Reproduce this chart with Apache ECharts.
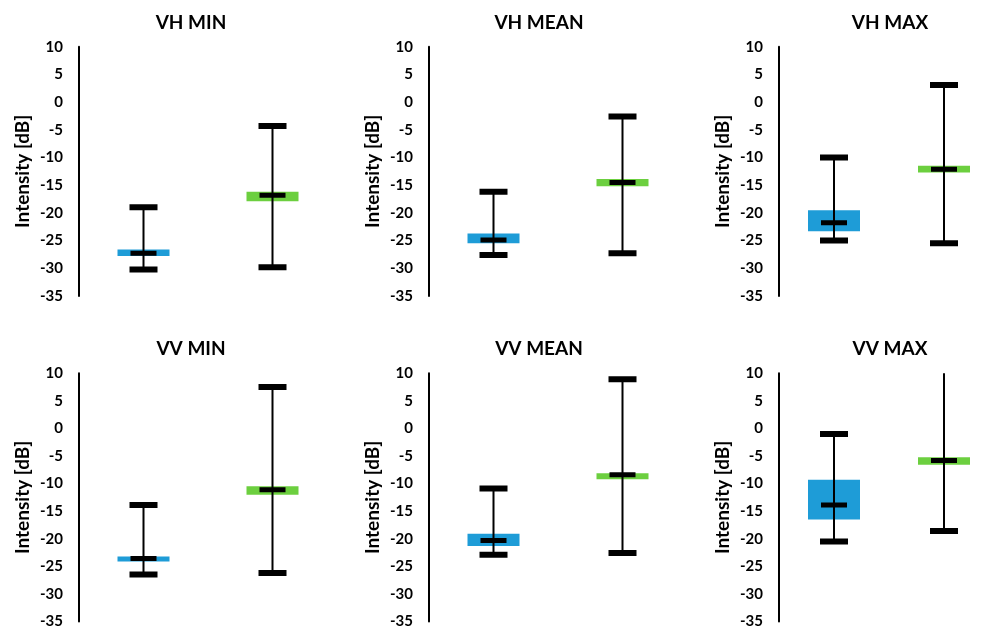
<!DOCTYPE html>
<html>
<head>
<meta charset="utf-8">
<script src="https://cdn.jsdelivr.net/npm/echarts@6/dist/echarts.min.js"></script>
<style>html,body{margin:0;padding:0;background:#fff}#c{width:999px;height:629px}</style>
</head>
<body>
<div id="c"></div>
<script>
// ---- data ----
const panelTitles = ['VH MIN', 'VH MEAN', 'VH MAX', 'VV MIN', 'VV MEAN', 'VV MAX'];
const categories = ['A', 'B'];
const yTicks = [-35, -30, -25, -20, -15, -10, -5, 0, 5, 10];

// blue group (category A)
const blueMin    = [-30.2, -27.6, -25.0, -26.5, -22.9, -20.5];
const blueLow    = [-27.8, -25.5, -23.3, -24.1, -21.3, -16.5];
const blueMedian = [-27.3, -24.9, -21.8, -23.6, -20.3, -13.9];
const blueHigh   = [-26.6, -23.7, -19.5, -23.2, -19.1, -9.3];
const blueMax    = [-19.0, -16.2, -10.0, -13.9, -10.9, -1.0];

// green group (category B)
const greenMin    = [-29.8, -27.3, -25.5, -26.2, -22.6, -18.6];
const greenLow    = [-17.9, -15.2, -12.7, -12.0, -9.2, -6.6];
const greenMedian = [-16.8, -14.5, -12.1, -11.1, -8.4, -5.8];
const greenHigh   = [-16.2, -13.9, -11.5, -10.5, -8.1, -5.2];
const greenMax    = [-4.3, -2.6, 3.1, 7.5, 8.9, 12.0];

// ---- layout / style ----
const BLUE = '#1E9CD7';
const GREEN = '#6CCF3F';
const FONT = 'Lato';
const gridLefts = [79, 429, 779];
const gridTops = [46.7, 373.3];
const gridW = 258, gridH = 249.3;
const titleX = [186, 534, 885];
const titleY = [8, 334];

const chart = echarts.init(document.getElementById('c'), null, {renderer: 'canvas'});

const grids = [], xAxes = [], yAxes = [], series = [], titles = [];
panelTitles.forEach((t, i) => {
  const col = i % 3, row = Math.floor(i / 3);
  grids.push({left: gridLefts[col], top: gridTops[row], width: gridW, height: gridH, containLabel: false});
  xAxes.push({
    type: 'category', gridIndex: i, data: categories, boundaryGap: true,
    show: false
  });
  yAxes.push({
    type: 'value', gridIndex: i, min: yTicks[0], max: yTicks[yTicks.length - 1], interval: 5,
    axisLine: {show: true, onZero: false, lineStyle: {color: '#000', width: 2}},
    axisTick: {show: false},
    splitLine: {show: false},
    axisLabel: {color: '#000', fontFamily: FONT, fontWeight: 'bold', fontSize: 15, margin: 16},
    name: 'Intensity [dB]', nameLocation: 'middle', nameRotate: 90, nameGap: 47,
    nameTextStyle: {color: '#000', fontFamily: FONT, fontWeight: 'bold', fontSize: 19}
  });
  titles.push({
    text: t, left: titleX[col], top: titleY[row], textAlign: 'center',
    textStyle: {color: '#000', fontFamily: FONT, fontWeight: 'bold', fontSize: 19}
  });
  const data = [
    {value: [0, blueMin[i], blueLow[i], blueMedian[i], blueHigh[i], blueMax[i]], color: BLUE},
    {value: [1, greenMin[i], greenLow[i], greenMedian[i], greenHigh[i], greenMax[i]], color: GREEN}
  ];
  series.push({
    type: 'custom', xAxisIndex: i, yAxisIndex: i, clip: true,
    data: data.map(d => ({value: d.value, itemStyle: {color: d.color}})),
    renderItem: function (params, api) {
      const x = api.value(0);
      const pMin = api.coord([x, api.value(1)]);
      const pLow = api.coord([x, api.value(2)]);
      const pMed = api.coord([x, api.value(3)]);
      const pHigh = api.coord([x, api.value(4)]);
      const pMax = api.coord([x, api.value(5)]);
      const cx = pMed[0];
      const color = api.visual('color');
      const boxW = 52, capW = 28, capH = 6, medW = 26, medH = 5;
      return {
        type: 'group',
        children: [
          {type: 'rect', shape: {x: cx - boxW / 2, y: pHigh[1], width: boxW, height: pLow[1] - pHigh[1]},
           style: {fill: color}},
          {type: 'line', shape: {x1: cx, y1: pMax[1], x2: cx, y2: pMin[1]},
           style: {stroke: '#000', lineWidth: 2}},
          {type: 'rect', shape: {x: cx - capW / 2, y: pMax[1] - capH / 2, width: capW, height: capH},
           style: {fill: '#000'}},
          {type: 'rect', shape: {x: cx - capW / 2, y: pMin[1] - capH / 2, width: capW, height: capH},
           style: {fill: '#000'}},
          {type: 'rect', shape: {x: cx - medW / 2, y: pMed[1] - medH / 2, width: medW, height: medH},
           style: {fill: '#000'}}
        ]
      };
    }
  });
});

chart.setOption({
  animation: false,
  backgroundColor: '#fff',
  title: titles,
  grid: grids,
  xAxis: xAxes,
  yAxis: yAxes,
  series: series
});
</script>
</body>
</html>
